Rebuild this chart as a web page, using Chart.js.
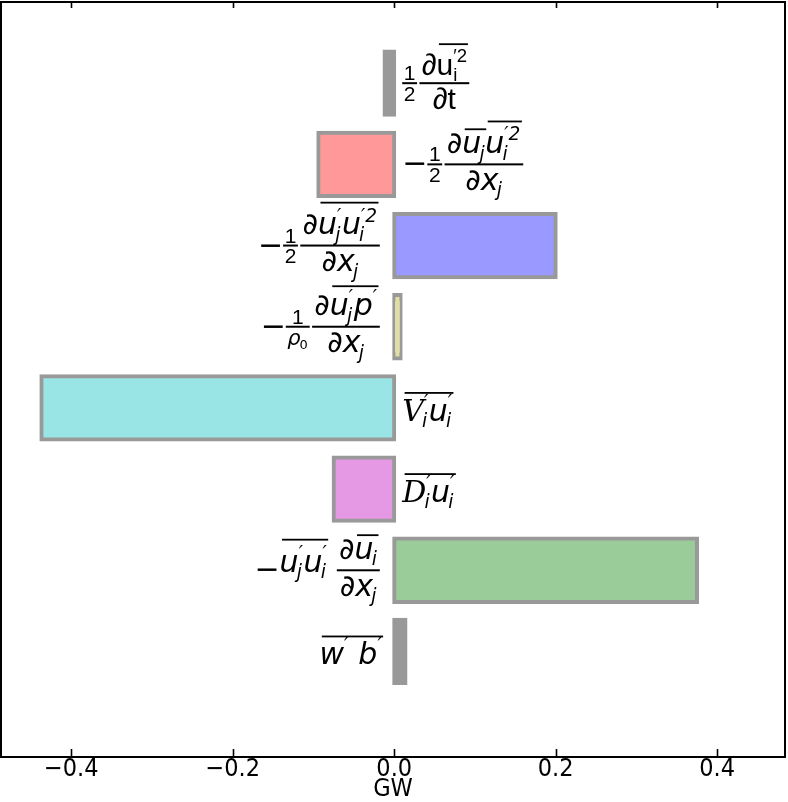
<!DOCTYPE html>
<html>
<head>
<meta charset="utf-8">
<script src="https://cdn.jsdelivr.net/npm/chart.js@4.4.1/dist/chart.umd.min.js"></script>
<style>
  html, body { margin: 0; padding: 0; background: #fff; }
  canvas { display: block; }
</style>
</head>
<body>
<canvas id="budgetChart" width="788" height="802"></canvas>
<script>
// budget terms, top to bottom
const terms = ['dKdt', 'meanAdv', 'turbAdv', 'pressure', 'viscous', 'diffusion', 'shear', 'buoyancy'];
const values = [-0.012, -0.094, 0.200, 0.008, -0.437, -0.075, 0.375, 0.014];
const xTicks = [-0.4, -0.2, 0.0, 0.2, 0.4];
const xLabel = 'GW';

const fills = ['#999999', '#ff9999', '#9999ff', '#e0e0a0', '#99e5e5', '#e599e5', '#99cc99', '#999999'];

const MATH = "'DejaVu Sans', sans-serif";
const UP = "'Liberation Sans', Arial, sans-serif";
const AXISFONT = "'Liberation Sans Narrow', 'DejaVu Sans Condensed', 'Liberation Sans', sans-serif";
const SZ = 30;

// tiny math layout: text atoms, fractions, overlines
const T = (t, o) => Object.assign({ t: t }, o || {});
const I = (t, o) => Object.assign({ t: t, it: true }, o || {});
const half = { frac: [[T('1', { fam: UP })], [T('2', { fam: UP })]], k: 0.7, lift: 0.14 };

const labels = [
  { fam: UP, nodes: [half, { frac: [[T('∂'), { ov: [T('u', { sub: 'i', sup: '′2' })], h: 1.05 }], [T('∂t')]], lift: 0.28 }] },
  { nodes: [T('−'), half, { frac: [[T('∂'), { ov: [I('u', { sub: 'j' })], h: 0.82 }, { ov: [I('u', { sub: 'i', sup: '′2' })], h: 1.08 }], [T('∂'), I('x', { sub: 'j' })]], lift: 0.38 }] },
  { nodes: [T('−'), half, { frac: [[T('∂'), { ov: [I('u', { sub: 'j', sup: '′' }), I('u', { sub: 'i', sup: '′2' })], h: 1.08 }], [T('∂'), I('x', { sub: 'j' })]], lift: 0.38 }] },
  { nodes: [T('−'), { frac: [[T('1', { fam: UP })], [I('ρ', { sub: '0', subUp: true })]], k: 0.7, lift: 0.14 }, { frac: [[T('∂'), { ov: [I('u', { sub: 'j', sup: '′' }), I('p', { sup: '′' })], h: 1.0 }], [T('∂'), I('x', { sub: 'j' })]], lift: 0.38 }] },
  { plain: true, nodes: [{ ov: [I('V', { sub: 'i', sup: '′', fam: "'DejaVu Serif', serif" }), I('u', { sub: 'i', sup: '′' })], h: 0.95 }] },
  { plain: true, nodes: [{ ov: [I('D', { sub: 'i', sup: '′', fam: "'DejaVu Serif', serif" }), I('u', { sub: 'i', sup: '′' })], h: 0.95 }] },
  { nodes: [T('−'), { ov: [I('u', { sub: 'j', sup: '′' }), I('u', { sub: 'i', sup: '′' })], h: 1.1, dy: -0.25 }, T(' '), { frac: [[T('∂'), { ov: [I('u', { sub: 'i' })], h: 0.82 }], [T('∂'), I('x', { sub: 'j' })]], lift: 0.38 }] },
  { plain: true, nodes: [{ ov: [I('w', { sup: '′' }), T(' '), I('b', { sup: '′' })], h: 0.95 }] }
];

function fontStr(s, it, fam) {
  return (it ? 'italic ' : '') + s.toFixed(1) + 'px ' + fam;
}

function run(ctx, nodes, x, y, s, fam, draw) {
  const x0 = x;
  nodes.forEach(n => { x += atom(ctx, n, x, y, s, fam, draw); });
  return x - x0;
}

function atom(ctx, n, x, y, s, fam, draw) {
  if (n.frac) {
    const fs = s * (n.k || 1);
    const wn = run(ctx, n.frac[0], 0, 0, fs, fam, false);
    const wd = run(ctx, n.frac[1], 0, 0, fs, fam, false);
    const w = Math.max(wn, wd) + 0.15 * fs;
    if (draw) {
      const ay = y - 0.3 * s;
      run(ctx, n.frac[0], x + (w - wn) / 2, ay - n.lift * fs, fs, fam, true);
      run(ctx, n.frac[1], x + (w - wd) / 2, ay + 0.85 * fs, fs, fam, true);
      ctx.fillRect(x, ay - 1, w, 2);
    }
    return w + 0.08 * s;
  }
  if (n.ov) {
    const yy = y + (n.dy || 0) * s;
    const w = run(ctx, n.ov, x, yy, s, fam, draw);
    if (draw) ctx.fillRect(x + 0.08 * s, yy - n.h * s, w - 0.05 * s, 1.8);
    return w;
  }
  const f = n.fam || fam;
  ctx.font = fontStr(s, n.it, f);
  const w = ctx.measureText(n.t).width;
  if (draw) ctx.fillText(n.t, x, y);
  const ss = s * 0.62;
  let ws = 0;
  if (n.sup) {
    ctx.font = fontStr(ss, n.it, fam);
    ws = Math.max(ws, ctx.measureText(n.sup).width);
    if (draw) ctx.fillText(n.sup, x + w, y - 0.42 * s);
  }
  if (n.sub) {
    ctx.font = fontStr(ss, n.it && !n.subUp, fam);
    const sw = ctx.measureText(n.sub).width;
    const off = n.it ? -0.06 * s : 0;
    ws = Math.max(ws, sw + off);
    if (draw) ctx.fillText(n.sub, x + w + off, y + 0.22 * s);
  }
  return w + ws + (n.it ? 0.02 * s : 0);
}

const framePlugin = {
  id: 'frame',
  afterDraw(chart) {
    const ctx = chart.ctx;
    const a = chart.chartArea;
    const xs = chart.scales.x;
    const ys = chart.scales.y;
    ctx.save();
    ctx.strokeStyle = '#000';
    ctx.lineWidth = 2;
    ctx.strokeRect(a.left, a.top, a.right - a.left, a.bottom - a.top);
    ctx.lineWidth = 1.6;
    xTicks.forEach(v => {
      const px = Math.round(xs.getPixelForValue(v)) + 0.5;
      ctx.beginPath();
      ctx.moveTo(px, a.bottom); ctx.lineTo(px, a.bottom - 8);
      ctx.moveTo(px, a.top); ctx.lineTo(px, a.top + 6);
      ctx.stroke();
    });
    // term labels beside each bar
    ctx.fillStyle = '#000';
    ctx.textBaseline = 'alphabetic';
    const zero = xs.getPixelForValue(0);
    labels.forEach((lab, i) => {
      const fam = lab.fam || MATH;
      const cy = ys.getPixelForValue(i);
      const y = cy + (lab.plain ? 0.42 : 0.3) * SZ;
      const w = run(ctx, lab.nodes, 0, 0, SZ, fam, false);
      const x = values[i] < 0 ? zero + 8 : zero - 12 - w;
      run(ctx, lab.nodes, x, y, SZ, fam, true);
    });
    ctx.restore();
  }
};

new Chart(document.getElementById('budgetChart'), {
  type: 'bar',
  data: {
    datasets: [{
      label: 'budget',
      data: values.map((v, i) => ({ x: v, y: i })),
      backgroundColor: fills,
      borderColor: '#999999',
      borderWidth: 4,
      borderSkipped: false,
      inflateAmount: 2,
      barPercentage: 1,
      categoryPercentage: 0.78
    }]
  },
  options: {
    indexAxis: 'y',
    responsive: false,
    animation: false,
    devicePixelRatio: 1,
    layout: { padding: { left: 1, right: 3, top: 2, bottom: 0 } },
    plugins: { legend: { display: false }, tooltip: { enabled: false } },
    scales: {
      y: {
        type: 'linear', min: -1, max: 8.3, reverse: true, display: false,
        offset: false, grace: 0,
        grid: { offset: false },
        afterBuildTicks: s => { s.ticks = terms.map((t, i) => ({ value: i })); }
      },
      x: {
        type: 'linear',
        min: -0.487,
        max: 0.484,
        afterBuildTicks: s => { s.ticks = xTicks.map(v => ({ value: v })); },
        afterFit: s => { s.height = 45; },
        grid: { display: false, drawTicks: false },
        border: { display: false },
        ticks: {
          color: '#000',
          padding: 0,
          maxRotation: 0,
          font: { family: AXISFONT, size: 25, lineHeight: 1 },
          callback: v => v.toFixed(1).replace('-', '−')
        },
        title: {
          display: true,
          text: xLabel,
          color: '#000',
          padding: { top: 0, bottom: 0 },
          font: { family: AXISFONT, size: 25, lineHeight: 1 }
        }
      }
    }
  },
  plugins: [framePlugin]
});
</script>
</body>
</html>
